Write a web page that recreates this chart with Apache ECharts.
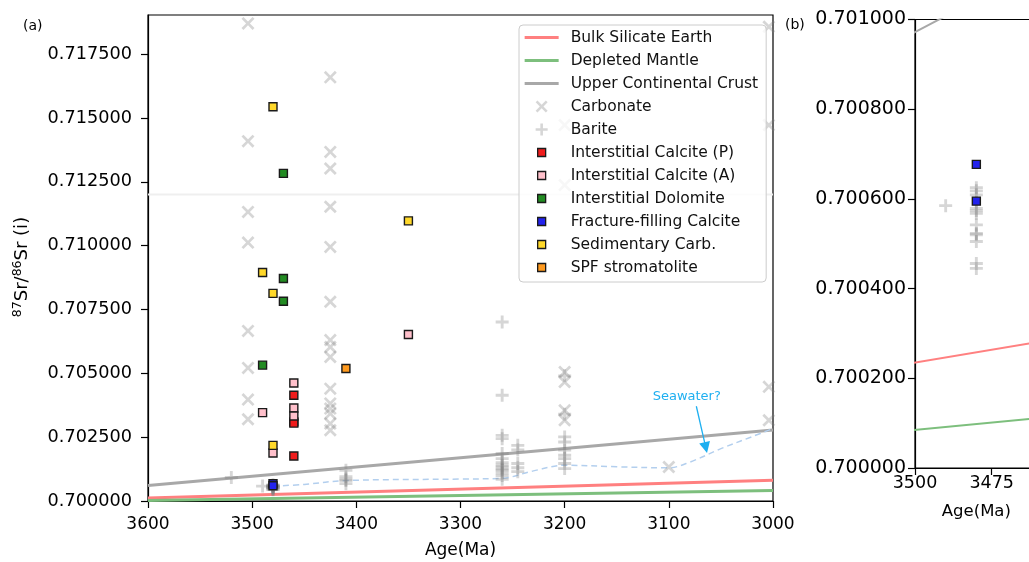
<!DOCTYPE html>
<html>
<head>
<meta charset="utf-8">
<script src="https://cdn.jsdelivr.net/npm/echarts@6/dist/echarts.min.js"></script>
<style>
  html, body { margin: 0; padding: 0; background: #ffffff; }
  #chart { width: 1029px; height: 562px; }
</style>
</head>
<body>
<div id="chart"></div>
<script>
// Reservoir evolution curves, [age (Ma), 87Sr/86Sr]
const bulkSilicateEarth = [[3600, 0.70012], [3000, 0.70081]];
const depletedMantle = [[3600, 0.70002], [3000, 0.70041]];
const upperContinentalCrust = [[3600, 0.70061], [3000, 0.70278]];
const referenceLevel = [[3600, 0.712], [3000, 0.712]];

// Inferred seawater trend
const seawaterTrend = [
  [3480, 0.70058], [3450, 0.70065], [3410, 0.70080], [3300, 0.70086], [3260, 0.70089],
  [3230, 0.70118], [3200, 0.70140], [3150, 0.70134], [3100, 0.70130], [3080, 0.70152],
  [3050, 0.70205], [3020, 0.70252], [3000, 0.70284]
];
const seawaterLabel = [3082.8, 0.704074];
const seawaterArrowFrom = [3073.6, 0.70371];
const seawaterArrowTo = [3064.5, 0.702092];

// Literature compilations
const carbonate = [
  [3504, 0.71870], [3504, 0.71409], [3504, 0.71132], [3504, 0.71012], [3504, 0.70666],
  [3504, 0.70521], [3504, 0.70397], [3504, 0.70320],
  [3425, 0.71659], [3425, 0.71367], [3425, 0.71302], [3425, 0.71152], [3425, 0.70995],
  [3425, 0.70780], [3425, 0.70630], [3425, 0.70603], [3425, 0.70564], [3425, 0.70440],
  [3425, 0.70382], [3425, 0.70362], [3425, 0.70342], [3425, 0.70303], [3425, 0.70277],
  [3200, 0.71472], [3200, 0.71237], [3200, 0.70505], [3200, 0.70466], [3200, 0.70355],
  [3200, 0.70316],
  [3100, 0.70133],
  [3004, 0.71857], [3004, 0.71472], [3004, 0.70447], [3004, 0.70316]
];
const barite = [
  [3520, 0.70092],
  [3490, 0.700585],
  [3480, 0.700625], [3480, 0.700618], [3480, 0.700609], [3480, 0.700579], [3480, 0.700574],
  [3480, 0.700568], [3480, 0.700542], [3480, 0.700523], [3480, 0.700520], [3480, 0.700505],
  [3480, 0.700456], [3480, 0.700445],
  [3410, 0.70120], [3410, 0.70095], [3410, 0.70085], [3410, 0.70080], [3410, 0.70068],
  [3260, 0.70701], [3260, 0.70414], [3260, 0.70257], [3260, 0.70244], [3260, 0.70186],
  [3260, 0.70166], [3260, 0.70150], [3260, 0.70140], [3260, 0.70133], [3260, 0.70125],
  [3260, 0.70120], [3260, 0.70110], [3260, 0.70100], [3260, 0.70085],
  [3245, 0.70218], [3245, 0.70200], [3245, 0.70147], [3245, 0.70130], [3245, 0.70115],
  [3200, 0.70490], [3200, 0.70340], [3200, 0.70251], [3200, 0.70231], [3200, 0.70199],
  [3200, 0.70179], [3200, 0.70166], [3200, 0.70147], [3200, 0.70127]
];

// Samples of this study
const calciteP = [[3460, 0.70414], [3460, 0.70310], [3460, 0.70305], [3460, 0.70176]];
const calciteA = [[3460, 0.70462], [3460, 0.70364], [3460, 0.70333], [3490, 0.70346], [3480, 0.70188], [3350, 0.70652]];
const dolomite = [[3470, 0.71283], [3470, 0.70871], [3470, 0.70782], [3490, 0.70532]];
const fractureCalcite = [[3480, 0.700677], [3480, 0.700595]];
const sedimentaryCarb = [[3480, 0.71544], [3490, 0.70895], [3480, 0.70813], [3480, 0.70218], [3350, 0.71097]];
const spfStromatolite = [[3410, 0.70519]];

// Tick values
const yTicksA = [0.7, 0.7025, 0.705, 0.7075, 0.71, 0.7125, 0.715, 0.7175];
const yTicksB = [0.7, 0.7002, 0.7004, 0.7006, 0.7008, 0.701];
const xTicksB = [3500, 3475];

const FONT = 'DejaVu Sans';
const MARK_GREY = 'rgba(128,128,128,0.32)';
const EDGE = '#1a1a1a';
const C = {
  bse: '#ff8080', dm: '#7dbf7d', ucc: '#a8a8a8',
  p: '#f01c1c', a: '#ffc0cb', dol: '#228b22', frac: '#2323ee', sed: '#ffd82a', spf: '#ff9a1e',
  sea: '#1eaff0', seaLine: '#b3cfee'
};

// Filled "x" and "+" outlines centred on (cx, cy)
function crossX(cx, cy, size, thick) {
  const h = size / 2, d = thick / Math.SQRT2;
  const p = [[-h, -h + d], [-h + d, -h], [0, -d], [h - d, -h], [h, -h + d], [d, 0],
             [h, h - d], [h - d, h], [0, d], [-h + d, h], [-h, h - d], [-d, 0]];
  return 'M' + p.map(q => (cx + q[0]).toFixed(2) + ',' + (cy + q[1]).toFixed(2)).join('L') + 'Z';
}
function crossPlus(cx, cy, size, thick) {
  const h = size / 2, w = thick / 2;
  const p = [[-w, -h], [w, -h], [w, -w], [h, -w], [h, w], [w, w], [w, h], [-w, h],
             [-w, w], [-h, w], [-h, -w], [-w, -w]];
  return 'M' + p.map(q => (cx + q[0]).toFixed(2) + ',' + (cy + q[1]).toFixed(2)).join('L') + 'Z';
}

const SYM_X = 'path://' + crossX(5, 5, 10, 2.1);
const SYM_PLUS = 'path://' + crossPlus(5, 5, 10, 2.2);

// Legend icons laid out in a 41 x 14 box, glyph centred at x = 17
const PAD = 'M0,0M41,14';
const ICON_LINE = 'path://' + PAD + 'M0,5.5H34V8.5H0Z';
const ICON_SQ = 'path://' + PAD + 'M13,3H21V11H13Z';
const ICON_X = 'path://' + PAD + crossX(17, 7, 12, 2.6);
const ICON_PLUS = 'path://' + PAD + crossPlus(17, 7, 12, 2.6);

function lineSeries(name, data, color, grid, width) {
  return {
    name, type: 'line', data, xAxisIndex: grid, yAxisIndex: grid,
    symbol: 'none', color, lineStyle: { color, width }, z: 2, silent: true, clip: true
  };
}
function markSeries(name, data, symbol, size, color, grid, bordered) {
  return {
    name, type: 'scatter', data, xAxisIndex: grid, yAxisIndex: grid,
    symbol, symbolSize: size, color, z: bordered ? 4 : 3, silent: true,
    itemStyle: bordered
      ? { color, borderColor: EDGE, borderWidth: 1.4, opacity: 1 }
      : { color, borderWidth: 0, opacity: 1 }
  };
}
function panelSeries(grid) {
  const w = grid === 0 ? 3 : 2;
  return [
    lineSeries('Bulk Silicate Earth', bulkSilicateEarth, C.bse, grid, w),
    lineSeries('Depleted Mantle', depletedMantle, C.dm, grid, w),
    lineSeries('Upper Continental Crust', upperContinentalCrust, C.ucc, grid, w),
    markSeries('Carbonate', carbonate, SYM_X, 13, MARK_GREY, grid, false),
    markSeries('Barite', barite, SYM_PLUS, 13, MARK_GREY, grid, false),
    markSeries('Interstitial Calcite (P)', calciteP, 'rect', 8, C.p, grid, true),
    markSeries('Interstitial Calcite (A)', calciteA, 'rect', 8, C.a, grid, true),
    markSeries('Interstitial Dolomite', dolomite, 'rect', 8, C.dol, grid, true),
    markSeries('Fracture-filling Calcite', fractureCalcite, 'rect', 8, C.frac, grid, true),
    markSeries('Sedimentary Carb.', sedimentaryCarb, 'rect', 8, C.sed, grid, true),
    markSeries('SPF stromatolite', spfStromatolite, 'rect', 8, C.spf, grid, true)
  ];
}

const tickStyle = { show: true, inside: false, length: 7, lineStyle: { color: '#000', width: 1.2 } };
const axisLine = { show: true, lineStyle: { color: '#000', width: 1.2 } };
const plain = v => String(v);

const option = {
  animation: false,
  backgroundColor: '#ffffff',
  textStyle: { fontFamily: FONT },
  grid: [
    { left: 148, top: 15, width: 625, height: 486, show: true, borderColor: '#000', borderWidth: 1.2,
      containLabel: false, outerBoundsMode: 'none' },
    { left: 915, top: 19.5, width: 122.7, height: 448.5, show: true, borderColor: '#000', borderWidth: 1.2,
      containLabel: false, outerBoundsMode: 'none' }
  ],
  xAxis: [
    { type: 'value', gridIndex: 0, min: 3000, max: 3600, interval: 100, inverse: true,
      axisLine, axisTick: tickStyle, splitLine: { show: false },
      axisLabel: { margin: 15, fontSize: 17, color: '#000', fontFamily: FONT, formatter: plain },
      name: 'Age(Ma)', nameLocation: 'middle', nameGap: 41,
      nameTextStyle: { fontSize: 17, color: '#000', fontFamily: FONT } },
    { type: 'value', gridIndex: 1, min: 3460, max: 3500, inverse: true,
      axisLine, splitLine: { show: false },
      axisTick: Object.assign({ customValues: xTicksB }, tickStyle),
      axisLabel: { customValues: xTicksB, margin: 6, fontSize: 17.5, color: '#000', fontFamily: FONT, formatter: plain },
      name: 'Age(Ma)', nameLocation: 'middle', nameGap: 35,
      nameTextStyle: { fontSize: 16.5, color: '#000', fontFamily: FONT } }
  ],
  yAxis: [
    { type: 'value', gridIndex: 0, min: 0.7, max: 0.71903,
      axisLine, splitLine: { show: false },
      axisTick: Object.assign({ customValues: yTicksA }, tickStyle),
      axisLabel: { customValues: yTicksA, margin: 16, fontSize: 17.7, color: '#000', fontFamily: FONT,
        formatter: v => v.toFixed(6) },
      name: '{sup|87}{main|Sr/}{sup|86}{main|Sr (i)}', nameLocation: 'middle', nameGap: 114, nameRotate: 90,
      nameTextStyle: {
        color: '#000', fontFamily: FONT, padding: [0, 18, 0, 0],
        rich: {
          main: { fontSize: 18, lineHeight: 23, fontFamily: FONT, color: '#000' },
          sup: { fontSize: 12.5, lineHeight: 13, verticalAlign: 'top', fontFamily: FONT, color: '#000' }
        }
      } },
    { type: 'value', gridIndex: 1, min: 0.7, max: 0.701,
      axisLine, splitLine: { show: false },
      axisTick: Object.assign({ customValues: yTicksB }, tickStyle),
      axisLabel: { customValues: yTicksB, margin: 9, fontSize: 19, color: '#000', fontFamily: FONT,
        formatter: v => v.toFixed(6) } }
  ],
  legend: {
    orient: 'vertical', left: 519, top: 25,
    itemWidth: 41, itemHeight: 14, itemGap: 7,
    padding: [4.5, 8, 6.5, 5],
    backgroundColor: 'rgba(255,255,255,0.8)', borderColor: '#cccccc', borderWidth: 1, borderRadius: 4,
    selectedMode: false,
    textStyle: { fontSize: 15.5, lineHeight: 14, color: '#111', fontFamily: FONT },
    data: [
      { name: 'Bulk Silicate Earth', icon: ICON_LINE, itemStyle: { color: C.bse, borderWidth: 0 } },
      { name: 'Depleted Mantle', icon: ICON_LINE, itemStyle: { color: C.dm, borderWidth: 0 } },
      { name: 'Upper Continental Crust', icon: ICON_LINE, itemStyle: { color: C.ucc, borderWidth: 0 } },
      { name: 'Carbonate', icon: ICON_X, itemStyle: { color: MARK_GREY, borderWidth: 0 } },
      { name: 'Barite', icon: ICON_PLUS, itemStyle: { color: MARK_GREY, borderWidth: 0 } },
      { name: 'Interstitial Calcite (P)', icon: ICON_SQ, itemStyle: { color: C.p, borderColor: EDGE, borderWidth: 1.3 } },
      { name: 'Interstitial Calcite (A)', icon: ICON_SQ, itemStyle: { color: C.a, borderColor: EDGE, borderWidth: 1.3 } },
      { name: 'Interstitial Dolomite', icon: ICON_SQ, itemStyle: { color: C.dol, borderColor: EDGE, borderWidth: 1.3 } },
      { name: 'Fracture-filling Calcite', icon: ICON_SQ, itemStyle: { color: C.frac, borderColor: EDGE, borderWidth: 1.3 } },
      { name: 'Sedimentary Carb.', icon: ICON_SQ, itemStyle: { color: C.sed, borderColor: EDGE, borderWidth: 1.3 } },
      { name: 'SPF stromatolite', icon: ICON_SQ, itemStyle: { color: C.spf, borderColor: EDGE, borderWidth: 1.3 } }
    ]
  },
  graphic: [
    { type: 'text', left: 23, top: 19, style: { text: '(a)', fontSize: 14, fontFamily: FONT, fill: '#000' } },
    { type: 'text', left: 785, top: 18, style: { text: '(b)', fontSize: 14, fontFamily: FONT, fill: '#000' } }
  ],
  series: [
    {
      name: 'reference level', type: 'line', data: referenceLevel, xAxisIndex: 0, yAxisIndex: 0,
      symbol: 'none', silent: true, z: 1, lineStyle: { color: '#efefef', width: 2 }
    },
    ...panelSeries(0),
    {
      name: 'seawater', type: 'line', data: seawaterTrend, xAxisIndex: 0, yAxisIndex: 0,
      symbol: 'none', smooth: 0.35, silent: true, z: 3,
      lineStyle: { color: C.seaLine, width: 1.5, type: [6, 4] },
      markLine: {
        silent: true, animation: false, symbol: ['none', 'triangle'], symbolSize: 11,
        lineStyle: { color: C.sea, width: 1.3, type: 'solid' },
        label: { show: false },
        data: [[{ coord: seawaterArrowFrom }, { coord: seawaterArrowTo }]]
      },
      markPoint: {
        silent: true, animation: false, symbol: 'circle', symbolSize: 1,
        itemStyle: { color: 'rgba(0,0,0,0)' },
        label: { show: true, position: 'inside', formatter: 'Seawater?', color: C.sea, fontSize: 13, fontFamily: FONT },
        data: [{ coord: seawaterLabel }]
      }
    },
    ...panelSeries(1)
  ]
};

const chart = echarts.init(document.getElementById('chart'), null, { renderer: 'canvas' });
chart.setOption(option);
</script>
</body>
</html>
